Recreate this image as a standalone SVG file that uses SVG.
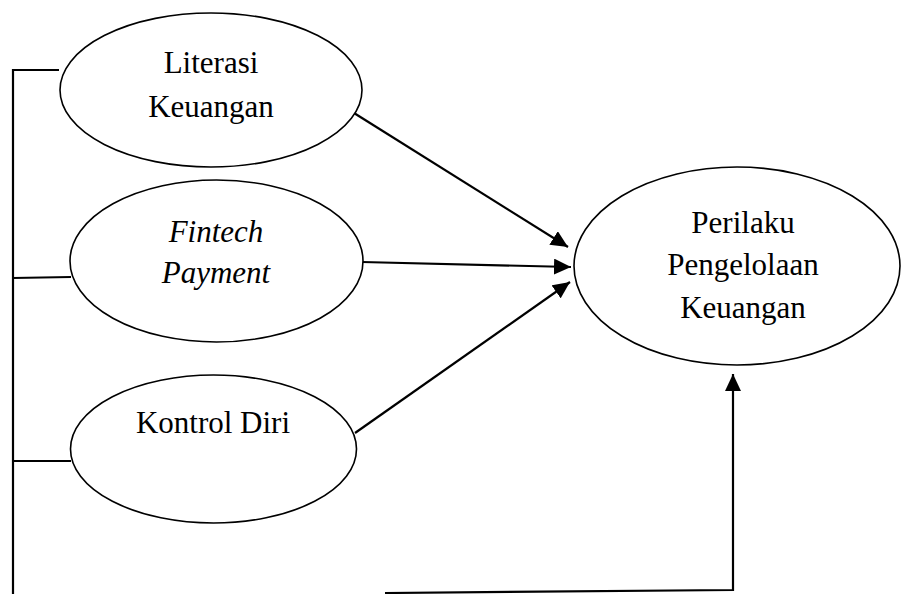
<svg xmlns="http://www.w3.org/2000/svg" width="901" height="594" viewBox="0 0 901 594">
<style>
.node{fill:#fff;stroke:#000;stroke-width:1.6}
.lbl{font-family:"Liberation Serif","Times New Roman",serif;font-size:31px;fill:#000;text-anchor:middle}
.it{font-style:italic}
.con{fill:none;stroke:#000;stroke-width:2.2}
</style>
<defs>
<marker id="ah" viewBox="0 0 17 16" refX="17" refY="8" markerWidth="17" markerHeight="16" markerUnits="userSpaceOnUse" orient="auto">
<path d="M0,0 L17,8 L0,16 Z" fill="#000"/>
</marker>
</defs>
<rect width="901" height="594" fill="#fff"/>
<g id="connectors">
<polyline class="con" points="59,70 13,70 13,594"/>
<line class="con" x1="13" y1="278" x2="71" y2="277"/>
<line class="con" x1="13" y1="461" x2="71" y2="461"/>
<polyline class="con" points="385,593 733,590 733,374" marker-end="url(#ah)"/>
<line class="con" x1="354" y1="113" x2="568" y2="247" marker-end="url(#ah)"/>
<line class="con" x1="362" y1="262" x2="571" y2="267" marker-end="url(#ah)"/>
<line class="con" x1="355" y1="433" x2="570" y2="282" marker-end="url(#ah)"/>
</g>
<g id="literasi">
<ellipse class="node" cx="211" cy="90" rx="151" ry="77"/>
<text class="lbl" x="211" y="73">Literasi</text>
<text class="lbl" x="211" y="117">Keuangan</text>
</g>
<g id="fintech">
<ellipse class="node" cx="216.5" cy="261" rx="146.5" ry="81"/>
<text class="lbl it" x="216" y="242">Fintech</text>
<text class="lbl it" x="216" y="283">Payment</text>
</g>
<g id="kontrol">
<ellipse class="node" cx="213.5" cy="449" rx="143" ry="74"/>
<text class="lbl" x="213" y="433">Kontrol Diri</text>
</g>
<g id="perilaku">
<ellipse class="node" cx="737" cy="266" rx="163" ry="99"/>
<text class="lbl" x="743" y="233">Perilaku</text>
<text class="lbl" x="743" y="275">Pengelolaan</text>
<text class="lbl" x="743" y="318">Keuangan</text>
</g>
</svg>
